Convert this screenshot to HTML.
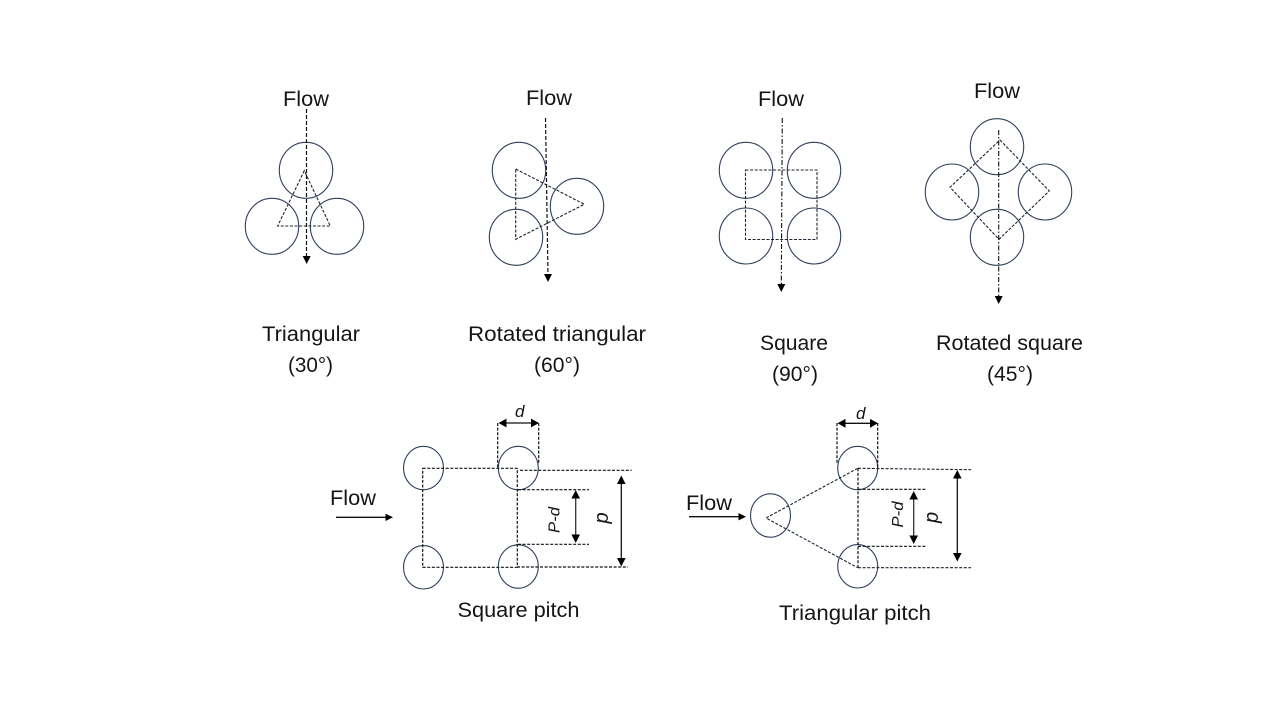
<!DOCTYPE html>
<html><head><meta charset="utf-8"><style>
html,body{margin:0;padding:0;background:#fff;width:1280px;height:720px;overflow:hidden}
svg{display:block}
text{font-family:"Liberation Sans",sans-serif;font-size:21px;fill:#151515}
.c{fill:none;stroke:#2f3f5c;stroke-width:1.1}
.d{fill:none;stroke:#1c2230;stroke-width:1.1;stroke-dasharray:3 1.6}
.n{fill:none;stroke:#111;stroke-width:1.2;stroke-dasharray:3 1.6}
.f{fill:none;stroke:#111;stroke-width:1.2;stroke-dasharray:4 2}
.g{fill:none;stroke:#111;stroke-width:1.1;stroke-dasharray:5 2 1.5 2}
.l{stroke:#111;stroke-width:1.3;fill:none}
polygon{fill:#000}
text.i{font-style:italic;font-size:16px}
</style></head><body>
<svg width="1280" height="720" viewBox="0 0 1280 720" xmlns="http://www.w3.org/2000/svg">
<!-- Triangular -->
<text x="283" y="106" textLength="46" lengthAdjust="spacingAndGlyphs">Flow</text>
<ellipse class="c" cx="306" cy="170.3" rx="26.7" ry="28"/>
<ellipse class="c" cx="272" cy="226.3" rx="26.7" ry="28"/>
<ellipse class="c" cx="337" cy="226.3" rx="26.7" ry="28"/>
<polygon class="d" style="fill:none" points="304.3,170.7 277.7,226 330.3,226"/>
<line class="f" x1="306.5" y1="109" x2="306.5" y2="257"/>
<polygon points="302.7,256 310.7,256 306.7,264"/>
<text x="262" y="341" textLength="98" lengthAdjust="spacingAndGlyphs">Triangular</text>
<text x="288" y="372" textLength="45" lengthAdjust="spacingAndGlyphs">(30°)</text>

<!-- Rotated triangular -->
<text x="526" y="105" textLength="46" lengthAdjust="spacingAndGlyphs">Flow</text>
<ellipse class="c" cx="519" cy="170.3" rx="26.7" ry="28"/>
<ellipse class="c" cx="577" cy="206.3" rx="26.7" ry="28"/>
<ellipse class="c" cx="516" cy="237.3" rx="26.7" ry="28"/>
<polygon class="d" style="fill:none" points="515.7,169 584.3,204.3 515.7,239.3"/>
<line class="f" x1="545.5" y1="118" x2="548" y2="275"/>
<polygon points="544,274 552,274 548,282"/>
<text x="468" y="341" textLength="178" lengthAdjust="spacingAndGlyphs">Rotated triangular</text>
<text x="534" y="372" textLength="46" lengthAdjust="spacingAndGlyphs">(60°)</text>

<!-- Square -->
<text x="758" y="106" textLength="46" lengthAdjust="spacingAndGlyphs">Flow</text>
<ellipse class="c" cx="746" cy="170.3" rx="26.7" ry="28"/>
<ellipse class="c" cx="814" cy="170.3" rx="26.7" ry="28"/>
<ellipse class="c" cx="746" cy="236" rx="26.7" ry="28"/>
<ellipse class="c" cx="814" cy="236" rx="26.7" ry="28"/>
<rect class="d" x="745.5" y="170" width="71.5" height="69.5"/>
<line class="g" x1="782.3" y1="118" x2="781.3" y2="285"/>
<polygon points="777.3,284 785.3,284 781.3,292"/>
<text x="760" y="350" textLength="68" lengthAdjust="spacingAndGlyphs">Square</text>
<text x="772" y="381" textLength="46" lengthAdjust="spacingAndGlyphs">(90°)</text>

<!-- Rotated square -->
<text x="974" y="98" textLength="46" lengthAdjust="spacingAndGlyphs">Flow</text>
<ellipse class="c" cx="997" cy="146.7" rx="26.7" ry="28"/>
<ellipse class="c" cx="952" cy="192" rx="26.7" ry="28"/>
<ellipse class="c" cx="1045" cy="192" rx="26.7" ry="28"/>
<ellipse class="c" cx="997" cy="237.3" rx="26.7" ry="28"/>
<polygon class="d" style="fill:none" points="1000,140 1049.3,191 999,239.3 950,187.3"/>
<line class="g" x1="998.7" y1="130" x2="998.7" y2="297"/>
<polygon points="994.7,296 1002.7,296 998.7,304"/>
<text x="936" y="350" textLength="147" lengthAdjust="spacingAndGlyphs">Rotated square</text>
<text x="987" y="381" textLength="46" lengthAdjust="spacingAndGlyphs">(45°)</text>

<!-- Square pitch -->
<text x="330" y="505" textLength="46" lengthAdjust="spacingAndGlyphs">Flow</text>
<line class="l" x1="336" y1="517.3" x2="388" y2="517.3"/>
<polygon points="385.5,513.6 393,517.3 385.5,521"/>
<ellipse class="c" cx="423.5" cy="468" rx="20" ry="21.7"/>
<ellipse class="c" cx="518.3" cy="468" rx="20" ry="21.7"/>
<ellipse class="c" cx="423.5" cy="567.3" rx="20" ry="21.7"/>
<ellipse class="c" cx="518.3" cy="566.5" rx="20" ry="21.7"/>
<rect class="n" x="422.7" y="468.3" width="94.6" height="99"/>
<line class="n" x1="497.7" y1="423" x2="497.7" y2="468"/>
<line class="n" x1="538.7" y1="423" x2="538.7" y2="464"/>
<line class="l" x1="503" y1="423" x2="534" y2="423"/>
<polygon points="498.5,423 506.5,418.6 506.5,427.4"/>
<polygon points="539,423 531,418.6 531,427.4"/>
<text class="i" x="515" y="417" style="font-size:17px">d</text>
<line class="n" x1="520" y1="470.3" x2="631.7" y2="470.3"/>
<line class="n" x1="518" y1="489.7" x2="589" y2="489.7"/>
<line class="n" x1="518" y1="544.3" x2="589" y2="544.3"/>
<line class="n" x1="517" y1="567" x2="628" y2="567"/>
<line class="l" x1="621.3" y1="482" x2="621.3" y2="560"/>
<polygon points="621.3,475.5 617,484 625.6,484"/>
<polygon points="621.3,566.5 617,558 625.6,558"/>
<line class="l" x1="575.7" y1="496" x2="575.7" y2="537" style="stroke:#333"/>
<polygon points="575.7,490 571.4,498.5 580,498.5"/>
<polygon points="575.7,543 571.4,534.5 580,534.5"/>
<text class="i" transform="translate(559.5,533) rotate(-90)" textLength="26" lengthAdjust="spacingAndGlyphs">P-d</text>
<text class="i" transform="translate(608,523.5) rotate(-90)" style="font-size:20px">p</text>
<text x="457.5" y="617" textLength="122" lengthAdjust="spacingAndGlyphs">Square pitch</text>

<!-- Triangular pitch -->
<text x="686" y="510" textLength="46" lengthAdjust="spacingAndGlyphs">Flow</text>
<line class="l" x1="689" y1="516.7" x2="741" y2="516.7"/>
<polygon points="738.5,513 746,516.7 738.5,520.4"/>
<ellipse class="c" cx="770.5" cy="515.5" rx="20" ry="21.7"/>
<ellipse class="c" cx="857.7" cy="468" rx="20" ry="21.7"/>
<ellipse class="c" cx="857.7" cy="566.3" rx="20" ry="21.7"/>
<polyline class="d" points="857.7,468.3 766,518 857.7,567.7"/>
<line class="n" x1="858" y1="468.3" x2="858" y2="567.7"/>
<line class="n" x1="837" y1="423" x2="837" y2="464"/>
<line class="n" x1="877.7" y1="423" x2="877.7" y2="468"/>
<line class="l" x1="842" y1="423.3" x2="873" y2="423.3"/>
<polygon points="837.5,423.3 845.5,418.9 845.5,427.7"/>
<polygon points="878,423.3 870,418.9 870,427.7"/>
<text class="i" x="856" y="419" style="font-size:17px">d</text>
<line class="d" x1="858" y1="468.3" x2="971" y2="469.7"/>
<line class="n" x1="858" y1="489.3" x2="925.7" y2="489.3"/>
<line class="n" x1="858" y1="546.3" x2="925.7" y2="546.3"/>
<line class="d" x1="858" y1="567.7" x2="971" y2="567.7"/>
<line class="l" x1="957.3" y1="476" x2="957.3" y2="556"/>
<polygon points="957.3,470 953,478.5 961.6,478.5"/>
<polygon points="957.3,561.5 953,553 961.6,553"/>
<line class="l" x1="913.7" y1="497" x2="913.7" y2="537" style="stroke:#333"/>
<polygon points="913.7,491 909.4,499.5 918,499.5"/>
<polygon points="913.7,544 909.4,535.5 918,535.5"/>
<text class="i" transform="translate(903,527.5) rotate(-90)" textLength="26" lengthAdjust="spacingAndGlyphs">P-d</text>
<text class="i" transform="translate(938,523) rotate(-90)" style="font-size:20px">p</text>
<text x="779" y="620" textLength="152" lengthAdjust="spacingAndGlyphs">Triangular pitch</text>
</svg>
</body></html>
